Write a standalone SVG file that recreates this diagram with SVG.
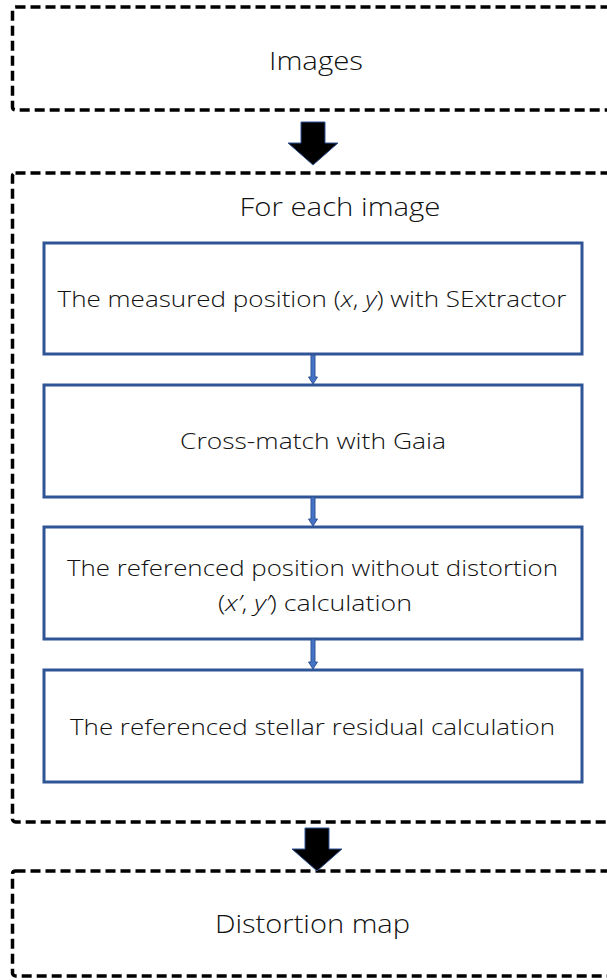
<svg xmlns="http://www.w3.org/2000/svg" width="607" height="980" viewBox="0 0 607 980">
<style>
.dash{fill:none;stroke:#000;stroke-width:3.5;stroke-dasharray:10 5}
.box{fill:#fff;stroke:#2F5597;stroke-width:3}
.t{font-family:"Open Sans","Liberation Sans",sans-serif;font-weight:300;fill:#111;text-anchor:middle}
.big{font-size:25px}
.mid{font-size:22px}
.bigarrow{fill:#000;stroke:#2F5597;stroke-width:1}
.smallarrow{fill:#4472C4;stroke:#2F5597;stroke-width:1}
</style>
<rect width="607" height="980" fill="#fff"/>
<g id="images">
<rect class="dash" x="12.5" y="7" width="620" height="103" rx="3"/>
<text class="t big" x="316" y="70" textLength="94" lengthAdjust="spacingAndGlyphs">Images</text>
</g>
<g id="foreach">
<rect class="dash" x="12.5" y="173" width="620" height="649" rx="3"/>
<text class="t big" x="340" y="216" textLength="201" lengthAdjust="spacingAndGlyphs">For each image</text>
</g>
<g id="measured">
<rect class="box" x="44" y="243" width="538" height="111"/>
<text class="t mid" x="312" y="307" textLength="509" lengthAdjust="spacingAndGlyphs">The measured position (<tspan font-style="italic">x</tspan>, <tspan font-style="italic">y</tspan>) with SExtractor</text>
</g>
<g id="crossmatch">
<rect class="box" x="44" y="385" width="538" height="112"/>
<text class="t mid" x="313" y="449" textLength="266" lengthAdjust="spacingAndGlyphs">Cross-match with Gaia</text>
</g>
<g id="referenced">
<rect class="box" x="44" y="527" width="538" height="112"/>
<text class="t mid" x="312.5" y="576" textLength="491" lengthAdjust="spacingAndGlyphs">The referenced position without distortion</text>
<text class="t mid" x="315" y="611" textLength="194" lengthAdjust="spacingAndGlyphs">(<tspan font-style="italic">x’</tspan>, <tspan font-style="italic">y’</tspan>) calculation</text>
</g>
<g id="residual">
<rect class="box" x="44" y="670" width="538" height="112"/>
<text class="t mid" x="312.5" y="735" textLength="485" lengthAdjust="spacingAndGlyphs">The referenced stellar residual calculation</text>
</g>
<g id="distortion">
<rect class="dash" x="12.5" y="871" width="620" height="105" rx="3"/>
<text class="t big" x="312.5" y="933" textLength="195" lengthAdjust="spacingAndGlyphs">Distortion map</text>
</g>
<g id="connectors">
<path class="bigarrow" d="M301 122 H325 V143 H338 L313 165 L288 143 H301 Z"/>
<path class="smallarrow" d="M311 355 H315 V377 H317.5 L313 384 L308.5 377 H311 Z"/>
<path class="smallarrow" d="M311 497 H315 V519 H317.5 L313 526 L308.5 519 H311 Z"/>
<path class="smallarrow" d="M311 639 H315 V662 H317.5 L313 669 L308.5 662 H311 Z"/>
<path class="bigarrow" d="M305 828 H329 V849 H342 L317 871 L292 849 H305 Z"/>
</g>
</svg>
